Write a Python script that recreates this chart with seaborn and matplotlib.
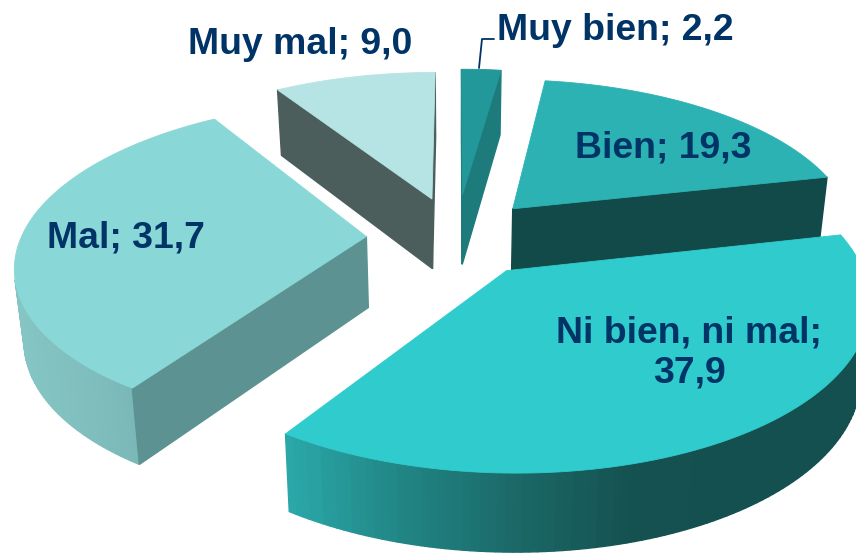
import numpy as np
import matplotlib
matplotlib.use("Agg")
import matplotlib.pyplot as plt
import seaborn as sns

labels = ["Muy bien", "Bien", "Ni bien, ni mal", "Mal", "Muy mal"]
values = [2.2, 19.3, 37.9, 31.7, 9.0]

# look of each slice
explode = [0.28, 0.25, 0.25, 0.26, 0.26]
top_cols = ["#23989A", "#2DB2B4", "#30CBCD", "#89D8D7", "#B6E4E4"]
face_cols = ["#1D7C7B", "#124A4A", "#165050", "#5C9291", "#4C5E5C"]
rim_cols = [["#1D7C7B", "#1D7C7B"], ["#124A4A", "#124A4A"],
            ["#2BA8AA", "#218584", "#1A6867", "#155150", "#145050", "#145050"],
            ["#85C6C5", "#7CBBBA", "#6AA8A7"], ["#8FB5B5", "#8FB5B5"]]
draw_order = [4, 0, 1, 3, 2]

# fake 3d camera, in pixels
CX, CY = 456, 237
R, Q = 345, 158
K = 0.16
H = 71
TXT = "#003366"


def project(x, y, low=False):
    w = 1 + K * y
    sx = CX + R * x / w
    sy = CY - Q * y / w
    if low:
        sx = CX + (sx - CX) * 0.978
        sy = sy + H / w ** 0.5
    return sx, sy


def area(pts):
    p = np.array(pts)
    return 0.5 * np.sum(p[:, 0] * np.roll(p[:, 1], -1) - np.roll(p[:, 0], -1) * p[:, 1])


def draw_wall(ax, p1, p2, col):
    # p1 -> p2 seen from outside, skip it when it points away
    quad = [project(*p1), project(*p2), project(*p2, low=True), project(*p1, low=True)]
    if area(quad) < 0:
        xs, ys = zip(*quad)
        ax.fill(xs, ys, color=col, lw=1, zorder=2)


sns.set_theme(style="white")
plt.rcParams["font.family"] = ["Liberation Sans", "DejaVu Sans"]

fig, ax = plt.subplots(figsize=(8.56, 5.55), dpi=100)
fig.subplots_adjust(0, 0, 1, 1)
ax.set_xlim(0, 856)
ax.set_ylim(555, 0)
ax.axis("off")

ends = np.cumsum(values) / np.sum(values) * 2 * np.pi
starts = np.r_[0, ends[:-1]]

for i in draw_order:
    mid = (starts[i] + ends[i]) / 2
    ox, oy = explode[i] * np.sin(mid), explode[i] * np.cos(mid)
    th = np.linspace(starts[i], ends[i], 120)
    rim = np.c_[ox + np.sin(th), oy + np.cos(th)]
    apex = (ox, oy)

    pal = sns.blend_palette(rim_cols[i], n_colors=100)
    sx_all = np.array([project(*p)[0] for p in rim])
    lo, hi = sx_all.min(), sx_all.max()
    for a, b, sx in zip(rim[:-1], rim[1:], sx_all[:-1]):
        n = int((sx - lo) / (hi - lo) * 99)
        draw_wall(ax, tuple(a), tuple(b), pal[n])

    draw_wall(ax, apex, tuple(rim[0]), face_cols[i])
    draw_wall(ax, tuple(rim[-1]), apex, face_cols[i])

    top = [project(*apex)] + [project(*p) for p in rim]
    xs, ys = zip(*top)
    ax.fill(xs, ys, color=top_cols[i], lw=0.6, zorder=2)

fs = 26.9
ax.text(497, 31, f"{labels[0]}; {values[0]:.1f}".replace(".", ","), color=TXT, fontsize=fs,
        fontweight="bold", ha="left", va="center", zorder=5)
ax.text(663, 148, f"{labels[1]}; {values[1]:.1f}".replace(".", ","), color=TXT, fontsize=fs,
        fontweight="bold", ha="center", va="center", zorder=5)
ax.text(689, 353, f"{labels[2]};\n{values[2]:.1f}".replace(".", ","), color=TXT, fontsize=fs,
        fontweight="bold", ha="center", va="center", linespacing=1.15, zorder=5)
ax.text(126, 238, f"{labels[3]}; {values[3]:.1f}".replace(".", ","), color=TXT, fontsize=fs,
        fontweight="bold", ha="center", va="center", zorder=5)
ax.text(300, 44, f"{labels[4]}; {values[4]:.1f}".replace(".", ","), color=TXT, fontsize=fs,
        fontweight="bold", ha="center", va="center", zorder=5)

# leader for the small slice
ax.plot([494, 482, 479], [39, 39, 68], color=TXT, lw=1.3, zorder=4)

fig.savefig("out.png", dpi=100, facecolor="white")
